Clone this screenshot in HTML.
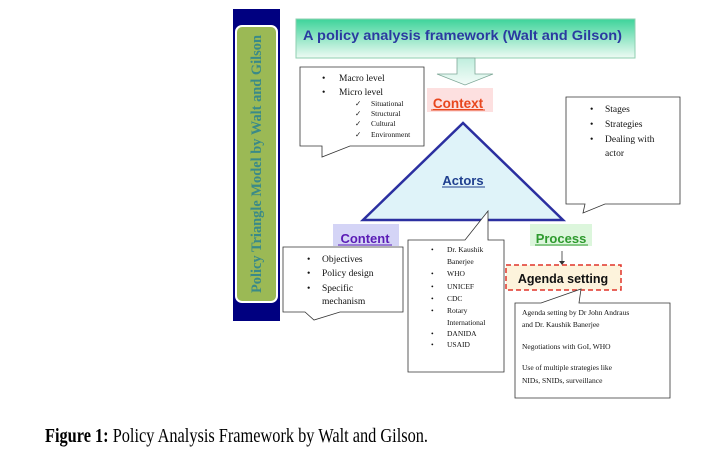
<!DOCTYPE html>
<html><head><meta charset="utf-8"><style>
html,body{margin:0;padding:0;background:#fff;}
svg{display:block}
.s{font-family:"Liberation Serif",serif;font-size:9.5px;fill:#111}
.sm{font-family:"Liberation Serif",serif;font-size:7.5px;fill:#111}
</style></head><body>
<svg width="719" height="467" viewBox="0 0 719 467" xmlns="http://www.w3.org/2000/svg">
<defs>
<linearGradient id="tg" x1="0" y1="0" x2="0" y2="1"><stop offset="0" stop-color="#3dd39a"/><stop offset="1" stop-color="#eefaf4"/></linearGradient>
<linearGradient id="ag" x1="0" y1="0" x2="0" y2="1"><stop offset="0" stop-color="#bfeedd"/><stop offset="1" stop-color="#f4fcf8"/></linearGradient>
</defs>
<!-- left bar -->
<rect x="233" y="9" width="47" height="312" fill="#000080"/>
<rect x="236" y="26" width="41" height="276" rx="6" fill="#9bb955" stroke="#fff" stroke-width="2"/>
<text transform="translate(261,164) rotate(-90)" text-anchor="middle" font-family="Liberation Serif,serif" font-weight="bold" font-size="14.5" fill="#3a8a88" textLength="258" lengthAdjust="spacingAndGlyphs">Policy Triangle Model by Walt and Gilson</text>
<!-- title -->
<rect x="296" y="19" width="339" height="39" fill="url(#tg)" stroke="#8fcfb0" stroke-width="1"/>
<text x="303" y="40" font-family="Liberation Sans,sans-serif" font-weight="bold" font-size="14" fill="#2a3aa0" textLength="319" lengthAdjust="spacingAndGlyphs">A policy analysis framework (Walt and Gilson)</text>
<!-- down arrow -->
<polygon points="457,58 475,58 475,74 493,74 465,85 437,74 457,74" fill="url(#ag)" stroke="#7fa898" stroke-width="0.8"/>
<!-- context -->
<rect x="427" y="88" width="66" height="24" fill="#fde0e0"/>
<text x="458" y="108" text-anchor="middle" font-family="Liberation Sans,sans-serif" font-weight="bold" font-size="13.5" fill="#e8461e" text-decoration="underline">Context</text>
<line x1="431" y1="110" x2="485" y2="110" stroke="#e8461e" stroke-width="1"/>
<!-- left callout -->
<path d="M300,67 H424 V146 H350 L322,157 V146 H300 Z" fill="#fff" stroke="#333" stroke-width="0.8"/>
<text class="s" x="322" y="81">•</text><text class="s" x="339" y="81">Macro level</text>
<text class="s" x="322" y="95">•</text><text class="s" x="339" y="95">Micro level</text>
<text class="sm" x="355" y="106">✓</text><text class="sm" x="371" y="106">Situational</text>
<text class="sm" x="355" y="116">✓</text><text class="sm" x="371" y="116">Structural</text>
<text class="sm" x="355" y="126">✓</text><text class="sm" x="371" y="126">Cultural</text>
<text class="sm" x="355" y="137">✓</text><text class="sm" x="371" y="137">Environment</text>
<!-- triangle -->
<polygon points="463,123 363,220 563,220" fill="#dff3f9" stroke="#2b2fa0" stroke-width="2.5"/>
<text x="463" y="185" text-anchor="middle" font-family="Liberation Sans,sans-serif" font-weight="bold" font-size="13" fill="#1f3f8f">Actors</text>
<line x1="442" y1="187" x2="485" y2="187" stroke="#1f3f8f" stroke-width="1"/>
<!-- right callout -->
<path d="M566,97 H680 V204 H605 L583,213 L585,204 H566 Z" fill="#fff" stroke="#333" stroke-width="0.8"/>
<text class="s" x="590" y="112">•</text><text class="s" x="605" y="112">Stages</text>
<text class="s" x="590" y="127">•</text><text class="s" x="605" y="127">Strategies</text>
<text class="s" x="590" y="142">•</text><text class="s" x="605" y="142">Dealing with</text>
<text class="s" x="605" y="156">actor</text>
<!-- content -->
<rect x="333" y="224" width="66" height="22" fill="#d4d4f6"/>
<text x="365" y="243" text-anchor="middle" font-family="Liberation Sans,sans-serif" font-weight="bold" font-size="13" fill="#5a1bb5">Content</text>
<line x1="338" y1="245" x2="392" y2="245" stroke="#5a1bb5" stroke-width="1"/>
<path d="M283,247 H403 V312 H340 L314,320 L305,312 H283 Z" fill="#fff" stroke="#333" stroke-width="0.8"/>
<text class="s" x="307" y="262">•</text><text class="s" x="322" y="262">Objectives</text>
<text class="s" x="307" y="276">•</text><text class="s" x="322" y="276">Policy design</text>
<text class="s" x="307" y="291">•</text><text class="s" x="322" y="291">Specific</text>
<text class="s" x="322" y="304">mechanism</text>
<!-- actors callout -->
<path d="M408,240 H465 L488,211 V240 H504 V372 H408 Z" fill="#fff" stroke="#333" stroke-width="0.8"/>
<text class="sm" x="431" y="252">•</text><text class="sm" x="447" y="252">Dr. Kaushik</text>
<text class="sm" x="447" y="264">Banerjee</text>
<text class="sm" x="431" y="276">•</text><text class="sm" x="447" y="276">WHO</text>
<text class="sm" x="431" y="289">•</text><text class="sm" x="447" y="289">UNICEF</text>
<text class="sm" x="431" y="301">•</text><text class="sm" x="447" y="301">CDC</text>
<text class="sm" x="431" y="313">•</text><text class="sm" x="447" y="313">Rotary</text>
<text class="sm" x="447" y="325">International</text>
<text class="sm" x="431" y="336">•</text><text class="sm" x="447" y="336">DANIDA</text>
<text class="sm" x="431" y="347">•</text><text class="sm" x="447" y="347">USAID</text>
<!-- process -->
<rect x="530" y="224" width="62" height="22" fill="#dcf6dc"/>
<text x="561" y="243" text-anchor="middle" font-family="Liberation Sans,sans-serif" font-weight="bold" font-size="13" fill="#2e9a2e">Process</text>
<line x1="535" y1="245" x2="588" y2="245" stroke="#2e9a2e" stroke-width="1"/>
<line x1="562" y1="251" x2="562" y2="263" stroke="#333" stroke-width="0.8"/>
<polygon points="559,261 565,261 562,265" fill="#333"/>
<!-- agenda -->
<rect x="506" y="265" width="115" height="25" fill="#fdf3dc" stroke="#e0342a" stroke-width="1.5" stroke-dasharray="5,3"/>
<text x="563" y="283" text-anchor="middle" font-family="Liberation Sans,sans-serif" font-weight="bold" font-size="12.5" fill="#111">Agenda setting</text>
<path d="M515,303 H541 L581,289 L579,303 H670 V398 H515 Z" fill="#fff" stroke="#333" stroke-width="0.8"/>
<text class="sm" x="522" y="315">Agenda setting by Dr John Andraus</text>
<text class="sm" x="522" y="327">and Dr. Kaushik Banerjee</text>
<text class="sm" x="522" y="349">Negotiations with GoI, WHO</text>
<text class="sm" x="522" y="370">Use of multiple strategies like</text>
<text class="sm" x="522" y="383">NIDs, SNIDs, surveillance</text>
<!-- caption -->
<text x="45" y="442" font-family="Liberation Serif,serif" font-size="20" fill="#000" textLength="383" lengthAdjust="spacingAndGlyphs"><tspan font-weight="bold">Figure 1:</tspan> Policy Analysis Framework by Walt and Gilson.</text>
</svg>
</body></html>
